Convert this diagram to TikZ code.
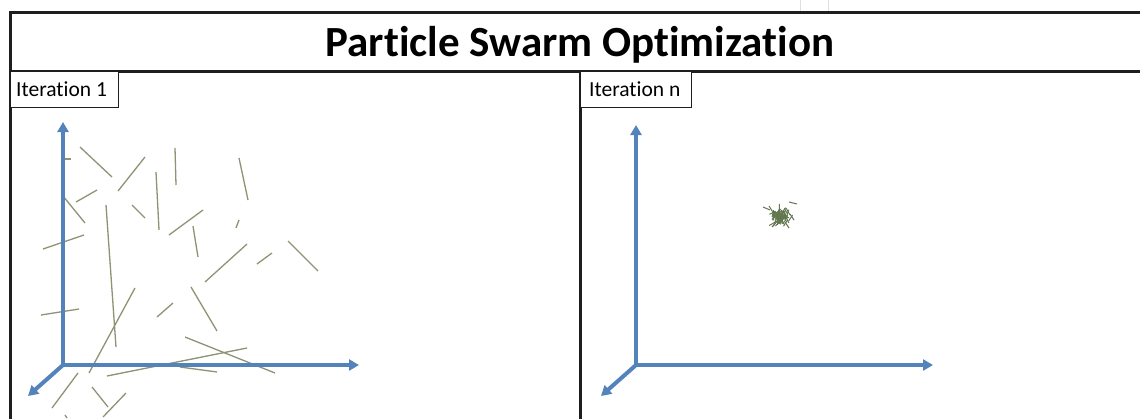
\documentclass[tikz,border=0pt]{standalone}
\usepackage{fontspec}
\setmainfont{Carlito}[Ligatures=NoCommon]
\usetikzlibrary{arrows.meta,calc}
\definecolor{axisblue}{RGB}{84,130,186}
\definecolor{particle}{RGB}{140,148,116}
\definecolor{swarm}{RGB}{100,120,80}
\definecolor{frame}{RGB}{30,30,30}
\tikzset{
  frameline/.style={draw=frame, line width=3pt},
  axis/.style={draw=axisblue, line width=4pt, -{Triangle[width=11pt,length=10pt]}},
  labelbox/.style={draw=frame, line width=0.8pt, fill=white},
  labeltext/.style={anchor=west, inner sep=0pt, font=\fontsize{21.5}{24}\selectfont},
  part/.style={draw=particle, line width=1.3pt},
  swarmpart/.style={draw=swarm, line width=1pt},
}
\begin{document}
\begin{tikzpicture}[x=1pt,y=-1pt]
\useasboundingbox (0,0) rectangle (1140,418);
\fill[white] (0,0) rectangle (1140,418);
% faint artifacts at top
\draw[gray!25, line width=1pt] (800,0) -- (800,12) (828,0) -- (828,12);
% frame
\draw[frameline] (10,419) -- (10,12) -- (1141,12);
\draw[frameline] (10,71) -- (1141,71);
\draw[frameline] (580,71) -- (580,419);
\node[inner sep=0pt] (title) at (580,45) {\fontsize{43}{46}\selectfont\bfseries Particle Swarm Optimization};
% label boxes
\draw[labelbox] (10,71) rectangle (118,107);
\node[labeltext] (lab1) at (16,89.5) {Iteration 1};
\draw[labelbox] (580,71) rectangle (691,107);
\node[labeltext] (labn) at (589,89.5) {Iteration n};
% left particles
\foreach \a/\b/\c/\d in {
80/147/112/177, 118/191/145/157, 175/148/176/185, 239/158/248/200,
65/159/71/159, 76/202/97/190, 63/196/85/223, 156/172/159/230,
132/205/145/218, 169/235/203/210, 193/226/198/257, 236/228/239/220,
43/249/84/235, 106/205/116/347, 247/244/205/282, 257/264/272/253,
288/241/318/271, 41/315/79/309, 135/288/89/373, 157/317/173/303,
191/287/217/331, 185/337/275/373, 107/376/247/348, 180/367/217/372,
78/373/52/408, 92/387/108/407, 126/393/103/417, 65/415/67/418}
  \draw[part] (\a,\b) -- (\c,\d);
% left axes
\coordinate (o1) at (63,365);
\coordinate (y1) at (63,122);
\coordinate (x1) at (359,365);
\coordinate (z1) at (28,396);
\draw[axis] (o1) -- (y1);
\draw[axis] (o1) -- (x1);
\draw[axis] (o1) -- (z1);
% right swarm
\pgfmathsetseed{11}
\foreach \i in {1,...,110}{
  \pgfmathsetmacro{\r}{13*rnd*rnd}
  \pgfmathsetmacro{\t}{360*rnd}
  \pgfmathsetmacro{\ang}{180*rnd}
  \pgfmathsetmacro{\cx}{780+\r*cos(\t)}
  \pgfmathsetmacro{\cy}{217+\r*sin(\t)}
  \draw[swarmpart] ($(\cx,\cy)+(\ang:3.5)$) -- ($(\cx,\cy)+(\ang+180:3.5)$);
}
\foreach \a/\b/\c/\d in {789/202/797/204, 763/207/770/210, 769/206/774/214, 786/208/790/215, 785/222/789/228, 776/222/772/227, 790/214/794/220}
  \draw[swarmpart] (\a,\b) -- (\c,\d);
% right axes
\coordinate (o2) at (636,365);
\coordinate (y2) at (636,125);
\coordinate (x2) at (933,365);
\coordinate (z2) at (601,396);
\draw[axis] (o2) -- (y2);
\draw[axis] (o2) -- (x2);
\draw[axis] (o2) -- (z2);
\end{tikzpicture}
\end{document}
